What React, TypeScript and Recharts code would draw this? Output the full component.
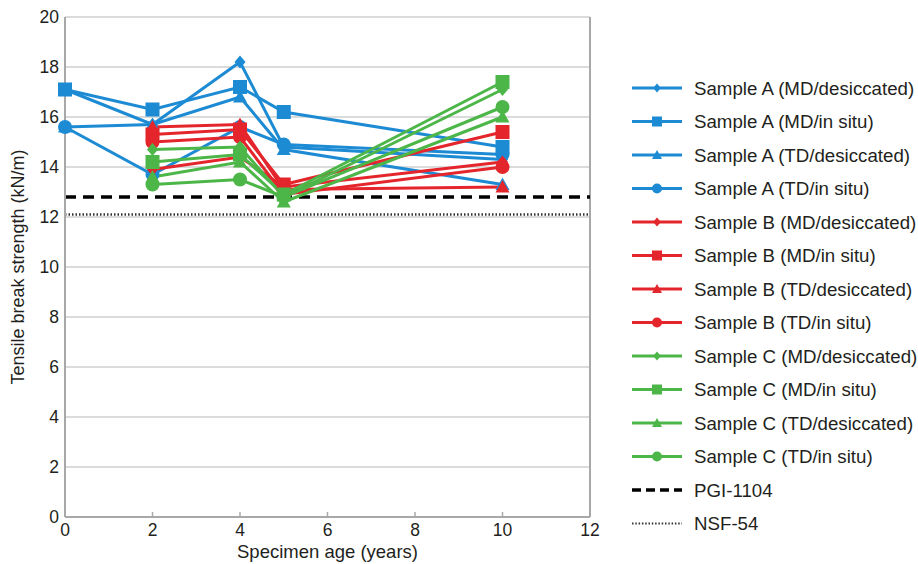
import { LineChart, Line, XAxis, YAxis, CartesianGrid, ReferenceLine, Label } from 'recharts'

// specimen ages (years)
const AGES_A = [0, 2, 4, 5, 10]
const AGES_BC = [2, 4, 5, 10]

// tensile break strength, kN/m
const A_MD_DESICCATED = [17.1, 15.7, 18.2, 14.8, 14.3]
const A_MD_IN_SITU = [17.1, 16.3, 17.2, 16.2, 14.8]
const A_TD_DESICCATED = [15.6, 15.7, 16.8, 14.7, 13.3]
const A_TD_IN_SITU = [15.6, 13.7, 15.6, 14.9, 14.5]

const B_MD_DESICCATED = [13.9, 14.4, 13.2, 14.2]
const B_MD_IN_SITU = [15.3, 15.5, 13.3, 15.4]
const B_TD_DESICCATED = [15.6, 15.7, 13.1, 13.2]
const B_TD_IN_SITU = [15.0, 15.2, 12.9, 14.0]

const C_MD_DESICCATED = [14.7, 14.8, 12.8, 17.1]
const C_MD_IN_SITU = [14.2, 14.5, 12.9, 17.4]
const C_TD_DESICCATED = [13.6, 14.2, 12.6, 16.0]
const C_TD_IN_SITU = [13.3, 13.5, 12.8, 16.4]

const PGI_1104 = 12.8
const NSF_54 = 12.1

const X_TICKS = [0, 2, 4, 6, 8, 10, 12]
const Y_TICKS = [0, 2, 4, 6, 8, 10, 12, 14, 16, 18, 20]

const BLUE = '#1d8bd4'
const RED = '#e4262c'
const GREEN = '#4cb649'
const GRID = '#cfcfcf'
const FRAME = '#a8a8a8'
const INK = '#231f20'
const FONT = '"Liberation Sans", Arial, sans-serif'

type Shape = 'diamond' | 'square' | 'triangle' | 'circle'

interface Series {
  name: string
  ages: number[]
  values: number[]
  color: string
  shape: Shape
}

const SERIES: Series[] = [
  { name: 'Sample A (MD/desiccated)', ages: AGES_A, values: A_MD_DESICCATED, color: BLUE, shape: 'diamond' },
  { name: 'Sample A (MD/in situ)', ages: AGES_A, values: A_MD_IN_SITU, color: BLUE, shape: 'square' },
  { name: 'Sample A (TD/desiccated)', ages: AGES_A, values: A_TD_DESICCATED, color: BLUE, shape: 'triangle' },
  { name: 'Sample A (TD/in situ)', ages: AGES_A, values: A_TD_IN_SITU, color: BLUE, shape: 'circle' },
  { name: 'Sample B (MD/desiccated)', ages: AGES_BC, values: B_MD_DESICCATED, color: RED, shape: 'diamond' },
  { name: 'Sample B (MD/in situ)', ages: AGES_BC, values: B_MD_IN_SITU, color: RED, shape: 'square' },
  { name: 'Sample B (TD/desiccated)', ages: AGES_BC, values: B_TD_DESICCATED, color: RED, shape: 'triangle' },
  { name: 'Sample B (TD/in situ)', ages: AGES_BC, values: B_TD_IN_SITU, color: RED, shape: 'circle' },
  { name: 'Sample C (MD/desiccated)', ages: AGES_BC, values: C_MD_DESICCATED, color: GREEN, shape: 'diamond' },
  { name: 'Sample C (MD/in situ)', ages: AGES_BC, values: C_MD_IN_SITU, color: GREEN, shape: 'square' },
  { name: 'Sample C (TD/desiccated)', ages: AGES_BC, values: C_TD_DESICCATED, color: GREEN, shape: 'triangle' },
  { name: 'Sample C (TD/in situ)', ages: AGES_BC, values: C_TD_IN_SITU, color: GREEN, shape: 'circle' },
]

const Marker = ({ shape, cx, cy, size, color }: {
  shape: Shape
  cx: number
  cy: number
  size: number
  color: string
}) => {
  const h = size / 2
  if (shape === 'square') {
    return <rect x={cx - h} y={cy - h} width={size} height={size} fill={color} />
  }
  if (shape === 'circle') {
    return <circle cx={cx} cy={cy} r={h} fill={color} />
  }
  if (shape === 'triangle') {
    return <polygon points={`${cx},${cy - h} ${cx + h},${cy + h * 0.8} ${cx - h},${cy + h * 0.8}`} fill={color} />
  }
  return <polygon points={`${cx},${cy - h} ${cx + h * 0.85},${cy} ${cx},${cy + h} ${cx - h * 0.85},${cy}`} fill={color} />
}

const XTick = ({ x, y, payload }: { x?: number; y?: number; payload?: { value: number } }) => {
  if (x == null || y == null || !payload) return null
  return (
    <g>
      <line x1={x} y1={y} x2={x} y2={y - 5} stroke={FRAME} strokeWidth={1.5} />
      <text x={x} y={y + 7} dy="0.71em" textAnchor="middle" fill={INK} fontSize={17.5} fontFamily={FONT}>
        {payload.value}
      </text>
    </g>
  )
}

const LegendBox = () => {
  const rows = [
    ...SERIES.map(s => ({ name: s.name, color: s.color, shape: s.shape as Shape | null, dash: undefined as string | undefined, width: 3 })),
    { name: 'PGI-1104', color: '#000', shape: null, dash: '9 5', width: 3.5 },
    { name: 'NSF-54', color: '#333', shape: null, dash: '1.5 1.8', width: 2 },
  ]
  return (
    <svg width={298} height={564} style={{ position: 'absolute', left: 620, top: 0 }}>
      {rows.map((r, i) => {
        const cy = 88 + i * 33.5
        return (
          <g key={r.name}>
            <line x1={12} x2={62} y1={cy} y2={cy} stroke={r.color} strokeWidth={r.width} strokeDasharray={r.dash} />
            {r.shape && <Marker shape={r.shape} cx={37} cy={cy} size={r.shape === 'diamond' ? 9 : 10} color={r.color} />}
            <text x={74} y={cy} dominantBaseline="central" fontSize={18.7} fontFamily={FONT} fill={INK}>{r.name}</text>
          </g>
        )
      })}
    </svg>
  )
}

export default function App() {
  return (
    <div style={{ position: 'absolute', left: 0, top: 0, width: 918, height: 564, background: '#fff', fontFamily: FONT }}>
      <LineChart width={918} height={564} margin={{ top: 17, right: 328, bottom: 0, left: 0 }}>
        <CartesianGrid vertical={false} stroke={GRID} strokeWidth={1.5} />
        <XAxis
          dataKey="x"
          type="number"
          domain={[0, 12]}
          ticks={X_TICKS}
          height={47}
          tickSize={0}
          tickMargin={0}
          tickLine={false}
          axisLine={{ stroke: FRAME, strokeWidth: 2 }}
          tick={<XTick />}
        >
          <Label value="Specimen age (years)" position="insideBottom" offset={6} fill={INK} fontSize={18.5} fontFamily={FONT} />
        </XAxis>
        <YAxis
          type="number"
          domain={[0, 20]}
          ticks={Y_TICKS}
          width={65}
          tickSize={0}
          tickMargin={6}
          tickLine={false}
          axisLine={{ stroke: FRAME, strokeWidth: 2 }}
          tick={{ fill: INK, fontSize: 17.5, fontFamily: FONT }}
        >
          <Label
            value="Tensile break strength (kN/m)"
            angle={-90}
            position="insideLeft"
            offset={18}
            fill={INK}
            fontSize={18}
            fontFamily={FONT}
            style={{ textAnchor: 'middle' }}
          />
        </YAxis>
        <ReferenceLine x={12} stroke={FRAME} strokeWidth={2} />
        <ReferenceLine y={NSF_54} stroke="#333" strokeWidth={2.5} strokeDasharray="1.5 2" />
        <ReferenceLine y={PGI_1104} stroke="#000" strokeWidth={3.5} strokeDasharray="11 7" />
        {SERIES.map(s => (
          <Line
            key={s.name}
            name={s.name}
            data={s.ages.map((x, i) => ({ x, y: s.values[i] }))}
            dataKey="y"
            stroke={s.color}
            strokeWidth={3}
            isAnimationActive={false}
            activeDot={false}
            dot={(p: { cx?: number; cy?: number; index?: number }) => (
              <Marker
                key={`${s.name}-${p.index}`}
                shape={s.shape}
                cx={p.cx ?? 0}
                cy={p.cy ?? 0}
                size={s.shape === 'diamond' ? 13 : 14}
                color={s.color}
              />
            )}
          />
        ))}
      </LineChart>
      <LegendBox />
    </div>
  )
}
